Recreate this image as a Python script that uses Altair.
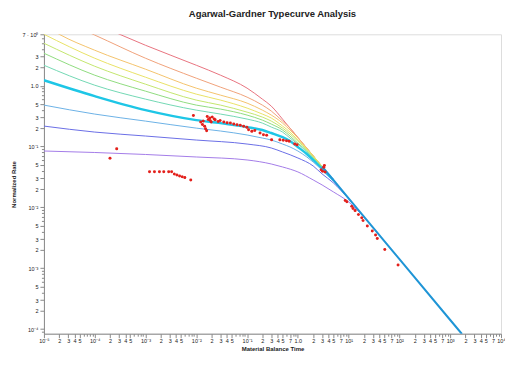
import altair as alt
import pandas as pd

# ---------------- data ----------------
curve_names = ["c01", "c02", "c03", "c04", "c05", "c06", "c07", "c08", "c09", "c10", "c11"]
curve_colors = ["#e8737f", "#f0a27a", "#f4c36c", "#e9e266", "#c4e66e", "#90dc80",
                "#72d8b4", "#1ec6e6", "#6cb2e6", "#6a6ee6", "#a47ce8"]

c01_x = [1e-4, 1e-3, 1e-2, 0.03, 0.1, 0.2, 0.3, 0.5, 0.7, 1, 2, 3]
c01_y = [10.6, 4.62, 2.17, 1.49, 0.912, 0.602, 0.462, 0.282, 0.201, 0.141, 0.0705, 0.047]
c02_x = [5e-5, 1e-4, 1e-3, 1e-2, 0.03, 0.1, 0.2, 0.3, 0.5, 0.7, 1, 2, 3]
c02_y = [8.8, 6.8, 2.83, 1.33, 0.947, 0.649, 0.480, 0.383, 0.262, 0.201, 0.141, 0.0705, 0.047]
c03_x = [1e-5, 2e-5, 1e-4, 1e-3, 1e-2, 0.03, 0.1, 0.2, 0.3, 0.5, 0.7, 1, 1.5, 2, 3]
c03_y = [9.9, 7.0, 3.83, 1.87, 0.912, 0.700, 0.518, 0.397, 0.329, 0.243, 0.187, 0.138, 0.094, 0.0705, 0.047]
c04_x = [1e-5, 1e-4, 1e-3, 1e-2, 0.03, 0.1, 0.2, 0.3, 0.5, 0.7, 1, 1.5, 2, 3]
c04_y = [7.0, 2.83, 1.38, 0.727, 0.580, 0.429, 0.342, 0.294, 0.217, 0.173, 0.128, 0.0912, 0.0705, 0.047]
c05_x = [1e-5, 1e-4, 1e-3, 1e-2, 0.03, 0.1, 0.2, 0.3, 0.5, 0.7, 1, 1.5, 2, 3, 5]
c05_y = [4.99, 2.09, 1.06, 0.580, 0.480, 0.368, 0.305, 0.262, 0.201, 0.161, 0.123, 0.0878, 0.0674, 0.047, 0.0282]
c06_x = [1e-5, 1e-4, 1e-3, 1e-2, 0.03, 0.1, 0.2, 0.3, 0.5, 0.7, 1, 1.5, 2, 3, 5]
c06_y = [3.42, 1.49, 0.814, 0.480, 0.413, 0.329, 0.272, 0.234, 0.187, 0.149, 0.114, 0.0845, 0.0649, 0.046, 0.0282]
c07_x = [1e-5, 1e-4, 1e-3, 1e-2, 0.03, 0.1, 0.2, 0.3, 0.5, 0.7, 1, 1.5, 2, 3, 5]
c07_y = [2.17, 1.02, 0.602, 0.397, 0.342, 0.283, 0.243, 0.209, 0.173, 0.138, 0.110, 0.0814, 0.0625, 0.0445, 0.0282]
c08_x = [1e-5, 1e-4, 1e-3, 1e-2, 0.03, 0.1, 0.2, 0.3, 0.5, 0.7, 1, 1.5, 2, 3, 5]
c08_y = [1.23, 0.674, 0.397, 0.272, 0.243, 0.209, 0.187, 0.167, 0.143, 0.123, 0.0984, 0.0754, 0.0602, 0.0428, 0.0282]
c09_x = [1e-5, 1e-4, 1e-3, 1e-2, 0.03, 0.1, 0.2, 0.3, 0.5, 0.7, 1, 1.5, 2, 3, 5]
c09_y = [0.480, 0.342, 0.262, 0.201, 0.180, 0.155, 0.138, 0.128, 0.110, 0.0984, 0.0845, 0.0674, 0.0558, 0.0413, 0.0282]
c10_x = [1e-5, 1e-4, 1e-3, 1e-2, 0.1, 0.3, 0.5, 1, 2, 3, 5, 10, 20]
c10_y = [0.217, 0.173, 0.149, 0.128, 0.110, 0.0947, 0.0814, 0.0649, 0.0480, 0.0355, 0.0253, 0.0138, 0.00705]
c11_x = [1e-5, 1e-4, 1e-3, 1e-2, 0.1, 0.3, 0.5, 1, 2, 3, 5, 10, 20, 30]
c11_y = [0.0845, 0.0799, 0.0741, 0.0674, 0.0602, 0.0517, 0.0462, 0.0383, 0.0283, 0.0234, 0.0180, 0.0123, 0.0069, 0.0047]

# late-time common (boundary dominated) line
bdf_x = [3, 5, 10, 100, 1000, 1700]
bdf_y = [0.047, 0.0282, 0.0141, 0.00141, 0.000141, 0.000083]

# measured data points
pts_x = [2.0e-4, 2.71e-4,
         1.20e-3, 1.50e-3, 1.88e-3, 2.29e-3, 2.86e-3, 3.27e-3, 3.69e-3, 4.15e-3, 4.69e-3, 5.28e-3, 5.94e-3, 7.78e-3,
         8.77e-3, 0.0122, 0.0132, 0.0146, 0.0152, 0.0160, 0.0164, 0.0184, 0.0206, 0.0188, 0.0172, 0.0225, 0.0197, 0.0137,
         0.0235, 0.0270, 0.0295, 0.0348, 0.0404, 0.0469, 0.0546, 0.0633, 0.0735, 0.0855, 0.0991, 0.107, 0.124, 0.142,
         0.180, 0.210, 0.243, 0.304, 0.442, 0.515, 0.597, 0.673, 0.867, 0.965,
         2.87, 3.24, 3.07, 3.44, 3.33,
         8.55, 9.23, 11.5, 12.2, 13.4, 15.6, 18.1, 19.2, 23.3, 29.2, 33.9, 36.6, 51.5, 94]
pts_y = [0.0642, 0.0922,
         0.0386, 0.0386, 0.0386, 0.0386, 0.0386, 0.0386, 0.0355, 0.0342, 0.0329, 0.0320, 0.0309, 0.0283,
         0.325, 0.253, 0.230, 0.215, 0.196, 0.182, 0.311, 0.294, 0.305, 0.267, 0.278, 0.283, 0.253, 0.262,
         0.276, 0.257, 0.267, 0.253, 0.246, 0.243, 0.234, 0.228, 0.223, 0.215, 0.207, 0.189, 0.178, 0.183,
         0.167, 0.156, 0.153, 0.129, 0.129, 0.127, 0.125, 0.122, 0.110, 0.107,
         0.0417, 0.0457, 0.0393, 0.0383, 0.0489,
         0.01295, 0.01233, 0.01048, 0.00958, 0.00888, 0.00763, 0.00674, 0.00609, 0.00493, 0.00408, 0.00351,
         0.00309, 0.00204, 0.00113]

# ---------------- tables ----------------
curve_xs = [c01_x, c02_x, c03_x, c04_x, c05_x, c06_x, c07_x, c08_x, c09_x, c10_x, c11_x]
curve_ys = [c01_y, c02_y, c03_y, c04_y, c05_y, c06_y, c07_y, c08_y, c09_y, c10_y, c11_y]
rows = []
for name, xs_, ys_ in zip(curve_names, curve_xs, curve_ys):
    for a, b in zip(xs_, ys_):
        rows.append({"curve": name, "t": a, "q": b})
curves_df = pd.DataFrame(rows)
bdf_df = pd.DataFrame({"t": bdf_x, "q": bdf_y})
pts_df = pd.DataFrame({"t": pts_x, "q": pts_y})

# ---------------- axis ticks & labels ----------------
SUP = str.maketrans("-0123456789", "⁻⁰¹²³⁴⁵⁶⁷⁸⁹")


def dec_label(e):
    return "1.0" if e == 0 else "10" + str(e).translate(SUP)


x_tick_vals = [float(f"{m}e{e}") for e in range(-5, 5) for m in range(1, 10) if not (e == 4 and m > 1)]
x_labels = {}
for e in range(-5, 5):
    x_labels[float(f"1e{e}")] = dec_label(e)
    if e < 4:
        for m in ([2, 3, 4, 5] if e <= -2 else [2, 3, 4, 5, 7]):
            x_labels[float(f"{m}e{e}")] = str(m)

y_tick_vals = [float(f"{m}e{e}") for e in range(-5, 1) for m in range(1, 10)
               if 8.5e-5 <= float(f"{m}e{e}") <= 7]
y_labels = {}
for e in range(-4, 0):
    y_labels[float(f"1e{e}")] = dec_label(e)
    for m in [2, 3, 5]:
        y_labels[float(f"{m}e{e}")] = str(m)
y_labels[1.0] = "1.0"
y_labels[2.0] = "2"
y_labels[3.0] = "3"
y_labels[7.0] = "7 · 10⁰"


def near(v):
    return f"abs(datum.value/{v!r}-1)<1e-6"


def label_expr(d):
    s = "''"
    for v, t in d.items():
        s = f"{near(v)} ? '{t}' : ({s})"
    return s


def major_test(d):
    return " || ".join(near(v) for v in d)


AX = dict(labelFontSize=5.5, labelFont="Liberation Sans", labelColor="#222",
          titleFont="Liberation Sans", titleFontSize=6, titleFontWeight="bold", titleColor="#222",
          domainColor="#8a8a8a", tickColor="#8a8a8a", grid=False, labelOverlap=False,
          labelFlush=False)

x_axis = alt.Axis(values=x_tick_vals, labelExpr=label_expr(x_labels), title="Material Balance Time",
                  tickSize={"condition": {"test": major_test(x_labels), "value": 4}, "value": 2.5},
                  labelPadding=1, titlePadding=1, **AX)
y_axis = alt.Axis(values=y_tick_vals, labelExpr=label_expr(y_labels), title="Normalized Rate",
                  tickSize={"condition": {"test": major_test(y_labels), "value": 4}, "value": 2.5},
                  labelPadding=2, titlePadding=5, **AX)

xs = alt.Scale(type="log", domain=[1e-5, 1e4], nice=False)
ys = alt.Scale(type="log", domain=[8.4e-5, 7], nice=False)

curves = alt.Chart(curves_df).mark_line(clip=True, interpolate="monotone").encode(
    x=alt.X("t:Q", scale=xs, axis=x_axis),
    y=alt.Y("q:Q", scale=ys, axis=y_axis),
    color=alt.Color("curve:N", scale=alt.Scale(domain=curve_names, range=curve_colors), legend=None),
    strokeWidth=alt.condition(alt.datum.curve == "c08", alt.value(2.4), alt.value(1.0)),
    detail="curve:N",
)

bdf = alt.Chart(bdf_df).mark_line(clip=True, color="#1f95d6", strokeWidth=2).encode(
    x=alt.X("t:Q", scale=xs), y=alt.Y("q:Q", scale=ys))

pts = alt.Chart(pts_df).mark_point(filled=True, shape="circle", size=9, color="#e3201b", opacity=1,
                                   clip=True).encode(
    x=alt.X("t:Q", scale=xs), y=alt.Y("q:Q", scale=ys))

chart = alt.layer(curves, bdf, pts).properties(
    width=458, height=300,
    title=alt.TitleParams("Agarwal-Gardner Typecurve Analysis", fontSize=9.5, fontWeight="bold",
                          font="Liberation Sans", color="#222", offset=14, anchor="middle"),
    autosize=alt.AutoSizeParams(type="none"),
    padding={"left": 36, "top": 26, "right": 4, "bottom": 20},
).configure_view(stroke="#d4d4d4", strokeWidth=1).configure(background="white")

chart.save("out.html", embed_options={"renderer": "svg", "actions": False})
